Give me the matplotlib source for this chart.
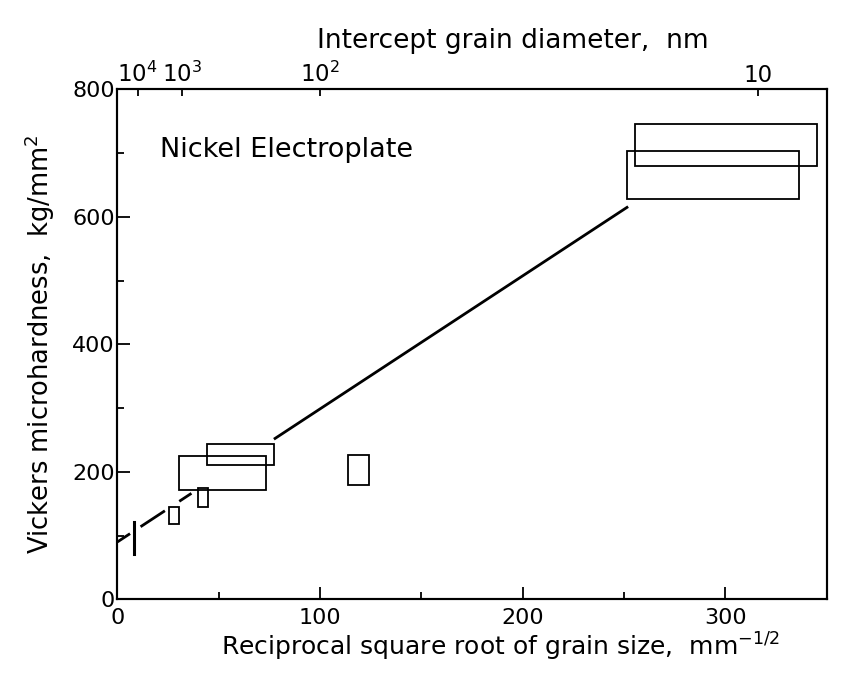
import numpy as np
import matplotlib
matplotlib.use("Agg")
import matplotlib.pyplot as plt
from matplotlib.patches import Rectangle

# ---- data ----
box_x0 = [255.3, 251.4, 44.3, 30.3, 39.6, 25.6, 113.9]
box_x1 = [345.1, 336.2, 77.2, 73.3, 44.8, 30.5, 124.1]
box_y0 = [680, 628, 211, 172, 144, 118, 180]
box_y1 = [746, 703, 243, 224, 174, 145, 226]
bar_x = [8.3]
bar_y0 = [71]
bar_y1 = [122]
fit_intercept = 90.0
fit_slope = 2.087
seg_x0 = [0.0, 11.4, 30.5, 77.2]
seg_x1 = [6.2, 23.4, 36.5, 252.0]
top_d_nm = [1e4, 1e3, 1e2, 10]
top_labels = ['$10^4$', '$10^3$', '$10^2$', '10']
x_major = [0, 100, 200, 300]
x_minor = [50, 150, 250]
y_major = [0, 200, 400, 600, 800]
y_minor = [100, 300, 500, 700]

plt.rcParams['font.family'] = ['DejaVu Sans']
plt.rcParams['mathtext.fontset'] = 'dejavusans'

fig = plt.figure(figsize=(8.5, 6.81), dpi=100)
ax = fig.add_axes([0.1382, 0.12, 0.9726 - 0.1382, 0.8689 - 0.12])
ax.set_xlim(0, 350)
ax.set_ylim(0, 800)

for s in ax.spines.values():
    s.set_linewidth(1.5)

# Hall-Petch line, drawn in pieces between the boxes
for a, b in zip(seg_x0, seg_x1):
    xs = np.array([a, b])
    ax.plot(xs, fit_intercept + fit_slope * xs, color='black', lw=2.0,
            solid_capstyle='butt')

for x0, x1, y0, y1 in zip(box_x0, box_x1, box_y0, box_y1):
    ax.add_patch(Rectangle((x0, y0), x1 - x0, y1 - y0, fill=False,
                           edgecolor='black', lw=1.3))
for xb, y0, y1 in zip(bar_x, bar_y0, bar_y1):
    ax.plot([xb, xb], [y0, y1], color='black', lw=2.2)

ax.set_xticks(x_major)
ax.set_xticks(x_minor, minor=True)
ax.set_yticks(y_major)
ax.set_yticks(y_minor, minor=True)
ax.tick_params(axis='both', which='major', direction='in', length=9, width=1.3,
               labelsize=16)
ax.tick_params(axis='both', which='minor', direction='in', length=5, width=1.3)
ax.tick_params(axis='x', which='major', pad=6)
ax.tick_params(axis='y', which='major', pad=2)

ax.set_xlabel('Reciprocal square root of grain size,  mm$^{-1/2}$', fontsize=18)
ax.xaxis.set_label_coords(0.54, -0.062)
ax.set_ylabel('Vickers microhardness,  kg/mm$^2$', fontsize=18.5)
ax.yaxis.set_label_coords(-0.085, 0.5)

ax.text(0.06, 0.88, 'Nickel Electroplate', transform=ax.transAxes,
        fontsize=19.5, ha='left', va='center')

ax2 = ax.twiny()
ax2.set_xlim(ax.get_xlim())
top_pos = 1.0 / np.sqrt(np.array(top_d_nm) * 1e-6)
ax2.set_xticks(top_pos)
ax2.set_xticklabels(top_labels)
ax2.tick_params(axis='x', direction='in', length=5, width=1.3, labelsize=16.5, pad=2)
ax2.set_xlabel('Intercept grain diameter,  nm', fontsize=19)
ax2.xaxis.set_label_coords(0.558, 1.08)
for s in ax2.spines.values():
    s.set_linewidth(1.5)

fig.savefig('out.png', dpi=100)
